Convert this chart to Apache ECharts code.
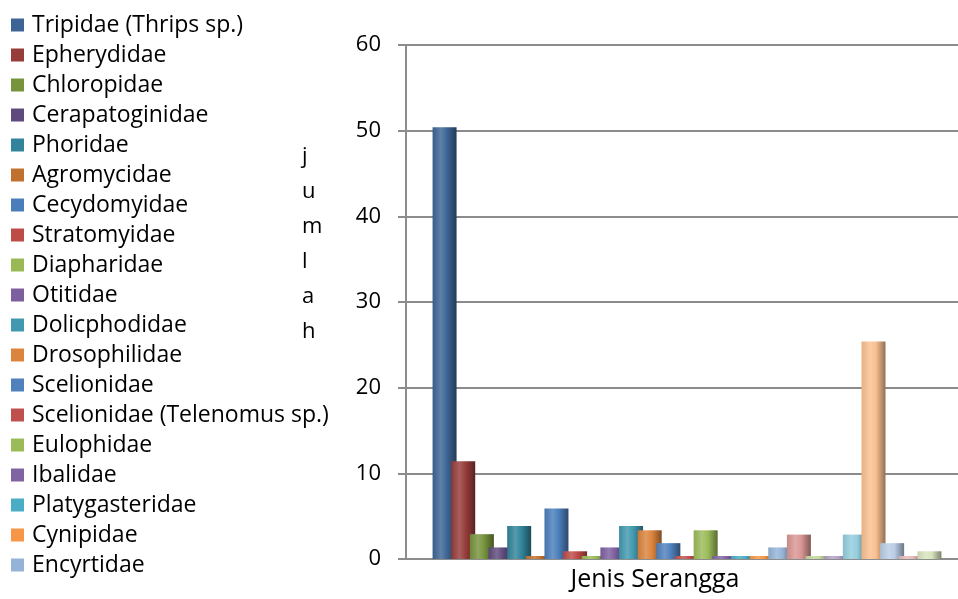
<!DOCTYPE html>
<html><head><meta charset="utf-8">
<script src="https://cdn.jsdelivr.net/npm/echarts@6/dist/echarts.min.js"></script>
<style>html,body{margin:0;padding:0;background:#fff}#c{width:958px;height:599px}</style>
</head><body><div id="c"></div>
<script>
// ---- data ----
const category = ['Jenis Serangga'];
const familyNames = [
  'Tripidae (Thrips sp.)', 'Epherydidae', 'Chloropidae', 'Cerapatoginidae', 'Phoridae',
  'Agromycidae', 'Cecydomyidae', 'Stratomyidae', 'Diapharidae', 'Otitidae',
  'Dolicphodidae', 'Drosophilidae', 'Scelionidae', 'Scelionidae (Telenomus sp.)', 'Eulophidae',
  'Ibalidae', 'Platygasteridae', 'Cynipidae', 'Encyrtidae',
  'Seri 20', 'Seri 21', 'Seri 22', 'Seri 23', 'Seri 24', 'Seri 25', 'Seri 26', 'Seri 27'
];
const legendCount = 19;
const values = [
  50.4, 11.4, 2.9, 1.35, 3.85, 0.35, 5.9, 0.9, 0.35, 1.35,
  3.85, 3.35, 1.85, 0.35, 3.35, 0.35, 0.35, 0.35, 1.35, 2.85,
  0.35, 0.35, 2.85, 25.4, 1.85, 0.35, 0.9
];
const palette = [
  '#3C6595', '#963C3A', '#77933C', '#5F4A7D', '#31849B', '#C0712F',
  '#4A7EBB', '#BE4B48', '#98B954', '#7D5FA0', '#4198AF', '#DB843D',
  '#4F81BD', '#C0504D', '#9BBB59', '#8064A2', '#4BACC6', '#F79646',
  '#95B3D7', '#D99694', '#C3D69B', '#B3A2C7', '#93CDDD', '#FAC090',
  '#B9CDE5', '#E6B9B8', '#D7E4BD'
];

// ---- helpers ----
function mix(hex, target, t) {
  const n = parseInt(hex.slice(1), 16);
  const r = (n >> 16) & 255, g = (n >> 8) & 255, b = n & 255;
  const f = v => Math.round(v + (target - v) * t);
  return 'rgb(' + f(r) + ',' + f(g) + ',' + f(b) + ')';
}
function cyl(hex) {
  return new echarts.graphic.LinearGradient(0, 0, 1, 0, [
    { offset: 0, color: mix(hex, 0, 0.08) },
    { offset: 0.35, color: mix(hex, 255, 0.18) },
    { offset: 0.6, color: hex },
    { offset: 1, color: mix(hex, 0, 0.42) }
  ]);
}

const FONT = '"Open Sans"';
const chart = echarts.init(document.getElementById('c'), null, { renderer: 'canvas' });
const series = familyNames.map((name, i) => ({
  name: name,
  type: 'bar',
  xAxisIndex: 1,
  yAxisIndex: 1,
  data: [values[i]],
  barWidth: 24,
  barGap: '-22.3%',
  barCategoryGap: '0%',
  itemStyle: { color: cyl(palette[i]) },
  animation: false
}));

chart.setOption({
  backgroundColor: '#ffffff',
  animation: false,
  textStyle: { fontFamily: FONT },
  grid: [
    { left: 406, right: 0, top: 45, bottom: 40, containLabel: false },
    { left: 416, right: 0, top: 45, bottom: 40, containLabel: false }
  ],
  legend: {
    orient: 'vertical',
    left: 6,
    top: 8,
    itemWidth: 13,
    itemHeight: 13,
    itemGap: 6,
    selectedMode: false,
    icon: 'rect',
    textStyle: { fontFamily: FONT, fontSize: 23, color: '#000', lineHeight: 24, padding: [0, 0, 0, 3] },
    data: familyNames.slice(0, legendCount).map((n, i) => ({ name: n, itemStyle: { color: palette[i] } }))
  },
  xAxis: [{
    type: 'category',
    gridIndex: 0,
    data: category,
    axisLine: { lineStyle: { color: '#8c8c8c', width: 2 } },
    axisTick: { show: false },
    axisLabel: { fontFamily: FONT, fontSize: 25, color: '#000', margin: 8, padding: [0, 54, 0, 0] }
  }, {
    type: 'category',
    gridIndex: 1,
    data: category,
    show: false
  }],
  yAxis: [{
    type: 'value',
    gridIndex: 0,
    min: 0, max: 60, interval: 10,
    axisLine: { show: true, lineStyle: { color: '#8c8c8c', width: 2 } },
    axisTick: { show: true, length: 8, lineStyle: { color: '#8c8c8c', width: 2 } },
    axisLabel: { fontFamily: FONT, fontSize: 22, color: '#000', margin: 25 },
    splitLine: { lineStyle: { color: '#8c8c8c', width: 2 } }
  }, {
    type: 'value',
    gridIndex: 1,
    min: 0, max: 60, interval: 10,
    show: false,
    splitLine: { show: false }
  }],
  graphic: [{
    type: 'text',
    left: 302, top: 139,
    style: {
      text: 'j\nu\nm\nl\na\nh',
      font: '22px "Open Sans"',
      fill: '#000',
      lineHeight: 35,
      align: 'center'
    }
  }],
  series: series
});
</script></body></html>
